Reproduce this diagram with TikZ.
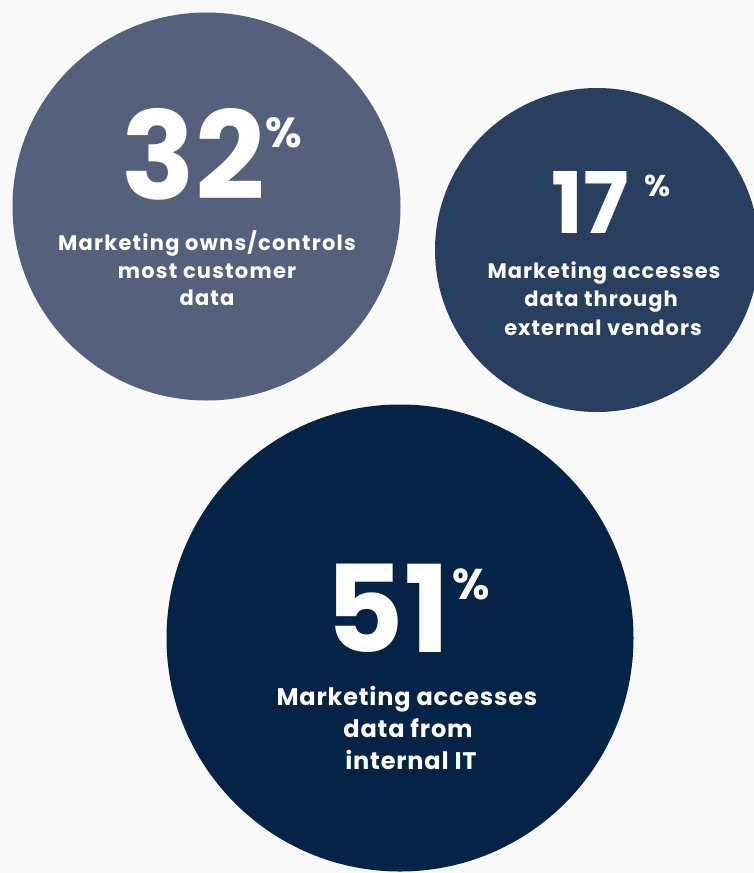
\documentclass[tikz,border=0pt]{standalone}
\usepackage{fontspec}
\setmainfont{Poppins}
\definecolor{bgcol}{RGB}{249,249,250}
\definecolor{cone}{RGB}{85,96,124}
\definecolor{ctwo}{RGB}{40,63,96}
\definecolor{cthree}{RGB}{5,34,71}
\tikzset{
  bubble/.style={circle, inner sep=0pt, draw=none},
  bignum/.style={text=white, inner sep=0pt, anchor=base, text depth=0pt, font=\bfseries\fontsize{#1}{#1}\selectfont},
  pct/.style={text=white, inner sep=0pt, anchor=north west, text depth=0pt, font=\bfseries\fontsize{#1}{#1}\selectfont},
  caption/.style 2 args={text=white, inner sep=0pt, anchor=base, text depth=0pt,
    font=\bfseries\fontsize{#1}{#1}\selectfont\addfontfeature{LetterSpace=#2}},
}
\begin{document}
\begin{tikzpicture}[x=1pt,y=-1pt]
  \useasboundingbox (0,0) rectangle (754,873);
  \fill[bgcol] (0,0) rectangle (754,873);
  \clip (0,0) rectangle (754,873);
  % circles
  \node[bubble, fill=cone, minimum size=388pt] (c1) at (206.5,206.5) {};
  \node[bubble, fill=ctwo, minimum size=324pt] (c2) at (597,250) {};
  \node[bubble, fill=cthree, minimum size=467pt] (c3) at (400,638) {};
  % circle 1
  \node[bignum=122] (n1) at (193.5,199) {32};
  \node[pct=42] (p1) at (265,117) {\%};
  \node[caption={21}{5.8}] (t1a) at (207,250) {Marketing owns/controls};
  \node[caption={21}{5.8}] (t1b) at (207,278) {most customer};
  \node[caption={21}{5.8}] (t1c) at (207,305) {data};
  % circle 2
  \node[bignum=85] (n2) at (590,233) {17};
  \node[pct=30] (p2) at (644,175) {\%};
  \node[caption={21}{4.8}] (t2a) at (604,278) {Marketing accesses};
  \node[caption={21}{4.8}] (t2b) at (601,306) {data through};
  \node[caption={21}{4.8}] (t2c) at (603,335) {external vendors};
  % circle 3
  \node[bignum=121] (n3) at (388,652) {51};
  \node[pct=43] (p3) at (452,569) {\%};
  \node[caption={24}{3.4}] (t3a) at (407,705) {Marketing accesses};
  \node[caption={24}{3.4}] (t3b) at (408,737) {data from};
  \node[caption={24}{3.4}] (t3c) at (411,769) {internal IT};
\end{tikzpicture}
\end{document}
